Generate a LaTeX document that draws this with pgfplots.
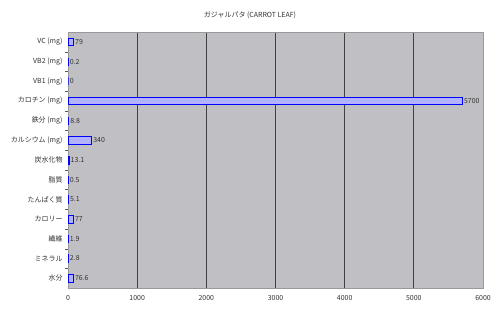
\documentclass[border=0pt]{standalone}
\usepackage{fontspec}
\setmainfont{Noto Sans CJK JP}
\usepackage{pgfplots}
\pgfplotsset{compat=1.18}
\usepackage{pgfplotstable}
\definecolor{bg}{HTML}{C0C0C4}
\definecolor{barfill}{HTML}{9999FF}
\definecolor{bardraw}{HTML}{222255}
\definecolor{txt}{HTML}{333333}
\pgfplotstableread{
y v m
0 79 79
1 0.2 0.2
2 0 0
3 5700 5700
4 8.8 8.8
5 340 340
6 13.1 13.1
7 0.5 0.5
8 5.1 5.1
9 77 77
10 1.9 1.9
11 2.8 2.8
12 76.6 76.6
}\data
\begin{document}
\begin{tikzpicture}[x=1bp,y=1bp]
\path[use as bounding box,fill=white] (0,0) rectangle (500,312);
\node[font=\fontsize{7}{8}\selectfont,text=txt] at (250,297) {ガジャルパタ (CARROT LEAF)};
\begin{axis}[
  at={(68bp,24bp)}, anchor=south west,
  scale only axis, width=415bp, height=256bp,
  xbar, bar width=7.5bp,
  xmin=0, xmax=6000,
  ymin=-0.5, ymax=12.5, y dir=reverse,
  ytick={0,...,12},
  yticklabels={VC (mg),VB2 (mg),VB1 (mg),カロチン (mg),鉄分 (mg),カルシウム (mg),炭水化物,脂質,たんぱく質,カロリー,繊維,ミネラル,水分},
  xtick={0,1000,...,6000},
  ytick pos=left, xtick pos=bottom,
  /pgf/number format/assume math mode=true,
  /pgf/number format/1000 sep={},
  ticklabel style={font=\fontsize{7}{8}\selectfont,text=txt},
  major tick length=0pt,
  minor y tick num=1,
  minor tick length=3bp,
  tick align=outside,
  minor tick style={gray!70!black},
  xmajorgrids, major grid style={black!75,line width=0.7bp},
  axis background/.style={fill=bg},
  axis line style={gray!80},
  every axis plot/.append style={fill=barfill,draw=bardraw,line width=0.5bp},
  nodes near coords, point meta=explicit symbolic,
  nodes near coords style={font=\fontsize{7}{8}\selectfont,text=txt,anchor=west,inner sep=1.5bp},
  xticklabel style={yshift=-4bp},
  yticklabel style={xshift=-2bp},
]
\addplot table[x=v,y=y,meta=m]{\data};
\end{axis}
\end{tikzpicture}
\end{document}
